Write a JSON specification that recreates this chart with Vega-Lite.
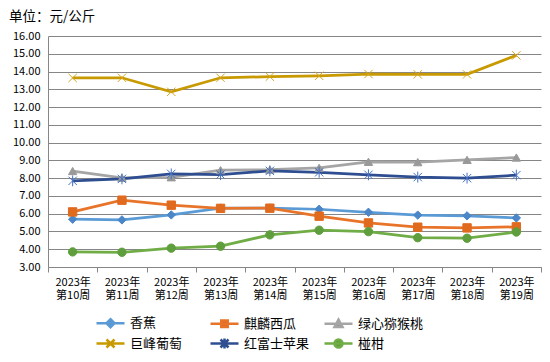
{
  "$schema": "https://vega.github.io/schema/vega-lite/v6.json",
  "width": 493,
  "height": 231,
  "autosize": {"type": "none"},
  "padding": {"left": 48, "top": 36, "right": 9, "bottom": 95},
  "background": "white",
  "title": {"text": "单位：元/公斤", "anchor": "start", "frame": "group", "dx": -39, "offset": 7, "fontSize": 13.5, "fontWeight": "normal", "color": "#000000", "font": "Noto Sans CJK SC"},
  "config": {"font": "Noto Sans CJK SC", "view": {"stroke": null}},
  "data": {"values": [
    {"week": "2023年第10周", "series": "香蕉", "price": 5.69},
    {"week": "2023年第11周", "series": "香蕉", "price": 5.65},
    {"week": "2023年第12周", "series": "香蕉", "price": 5.93},
    {"week": "2023年第13周", "series": "香蕉", "price": 6.31},
    {"week": "2023年第14周", "series": "香蕉", "price": 6.32},
    {"week": "2023年第15周", "series": "香蕉", "price": 6.25},
    {"week": "2023年第16周", "series": "香蕉", "price": 6.08},
    {"week": "2023年第17周", "series": "香蕉", "price": 5.92},
    {"week": "2023年第18周", "series": "香蕉", "price": 5.88},
    {"week": "2023年第19周", "series": "香蕉", "price": 5.76},
    {"week": "2023年第10周", "series": "麒麟西瓜", "price": 6.10},
    {"week": "2023年第11周", "series": "麒麟西瓜", "price": 6.76},
    {"week": "2023年第12周", "series": "麒麟西瓜", "price": 6.48},
    {"week": "2023年第13周", "series": "麒麟西瓜", "price": 6.30},
    {"week": "2023年第14周", "series": "麒麟西瓜", "price": 6.31},
    {"week": "2023年第15周", "series": "麒麟西瓜", "price": 5.86},
    {"week": "2023年第16周", "series": "麒麟西瓜", "price": 5.48},
    {"week": "2023年第17周", "series": "麒麟西瓜", "price": 5.24},
    {"week": "2023年第18周", "series": "麒麟西瓜", "price": 5.20},
    {"week": "2023年第19周", "series": "麒麟西瓜", "price": 5.26},
    {"week": "2023年第10周", "series": "绿心猕猴桃", "price": 8.40},
    {"week": "2023年第11周", "series": "绿心猕猴桃", "price": 8.02},
    {"week": "2023年第12周", "series": "绿心猕猴桃", "price": 8.05},
    {"week": "2023年第13周", "series": "绿心猕猴桃", "price": 8.45},
    {"week": "2023年第14周", "series": "绿心猕猴桃", "price": 8.48},
    {"week": "2023年第15周", "series": "绿心猕猴桃", "price": 8.58},
    {"week": "2023年第16周", "series": "绿心猕猴桃", "price": 8.92},
    {"week": "2023年第17周", "series": "绿心猕猴桃", "price": 8.90},
    {"week": "2023年第18周", "series": "绿心猕猴桃", "price": 9.03},
    {"week": "2023年第19周", "series": "绿心猕猴桃", "price": 9.16},
    {"week": "2023年第10周", "series": "巨峰葡萄", "price": 13.64},
    {"week": "2023年第11周", "series": "巨峰葡萄", "price": 13.65},
    {"week": "2023年第12周", "series": "巨峰葡萄", "price": 12.86},
    {"week": "2023年第13周", "series": "巨峰葡萄", "price": 13.65},
    {"week": "2023年第14周", "series": "巨峰葡萄", "price": 13.71},
    {"week": "2023年第15周", "series": "巨峰葡萄", "price": 13.76},
    {"week": "2023年第16周", "series": "巨峰葡萄", "price": 13.86},
    {"week": "2023年第17周", "series": "巨峰葡萄", "price": 13.84},
    {"week": "2023年第18周", "series": "巨峰葡萄", "price": 13.84},
    {"week": "2023年第19周", "series": "巨峰葡萄", "price": 14.91},
    {"week": "2023年第10周", "series": "红富士苹果", "price": 7.85},
    {"week": "2023年第11周", "series": "红富士苹果", "price": 7.96},
    {"week": "2023年第12周", "series": "红富士苹果", "price": 8.24},
    {"week": "2023年第13周", "series": "红富士苹果", "price": 8.20},
    {"week": "2023年第14周", "series": "红富士苹果", "price": 8.41},
    {"week": "2023年第15周", "series": "红富士苹果", "price": 8.33},
    {"week": "2023年第16周", "series": "红富士苹果", "price": 8.19},
    {"week": "2023年第17周", "series": "红富士苹果", "price": 8.06},
    {"week": "2023年第18周", "series": "红富士苹果", "price": 8.00},
    {"week": "2023年第19周", "series": "红富士苹果", "price": 8.17},
    {"week": "2023年第10周", "series": "椪柑", "price": 3.85},
    {"week": "2023年第11周", "series": "椪柑", "price": 3.83},
    {"week": "2023年第12周", "series": "椪柑", "price": 4.06},
    {"week": "2023年第13周", "series": "椪柑", "price": 4.17},
    {"week": "2023年第14周", "series": "椪柑", "price": 4.81},
    {"week": "2023年第15周", "series": "椪柑", "price": 5.07},
    {"week": "2023年第16周", "series": "椪柑", "price": 4.99},
    {"week": "2023年第17周", "series": "椪柑", "price": 4.65},
    {"week": "2023年第18周", "series": "椪柑", "price": 4.62},
    {"week": "2023年第19周", "series": "椪柑", "price": 4.97}
  ]},
  "encoding": {
    "x": {"field": "week", "type": "nominal", "sort": null,
      "scale": {"paddingInner": 0, "paddingOuter": 0},
      "axis": {"title": null, "labelAngle": 0, "tickBand": "extent", "grid": false,
        "labelExpr": "[slice(datum.label, 0, 5), slice(datum.label, 5)]",
        "domainColor": "#868686", "tickColor": "#868686", "tickSize": 5, "labelPadding": 4,
        "labelFontSize": 11, "labelLineHeight": 13, "labelColor": "#000000", "labelFont": "Noto Sans CJK SC"}},
    "y": {"field": "price", "type": "quantitative",
      "scale": {"domain": [3, 16], "nice": false, "zero": false},
      "axis": {"title": null, "values": [3, 4, 5, 6, 7, 8, 9, 10, 11, 12, 13, 14, 15, 16], "format": ".2f",
        "ticks": false, "labelPadding": 8, "gridColor": "#868686", "gridOpacity": 1, "domainColor": "#868686",
        "labelFontSize": 11, "labelColor": "#000000", "labelFont": "Noto Sans CJK SC"}}
  },
  "layer": [
    {
      "mark": {"type": "line", "strokeWidth": 2.75},
      "encoding": {
        "stroke": {"field": "series", "type": "nominal",
          "scale": {"domain": ["香蕉", "麒麟西瓜", "绿心猕猴桃", "巨峰葡萄", "红富士苹果", "椪柑"],
            "range": ["#5B9BD5", "#E8742A", "#A5A5A5", "#C89A00", "#2E4E91", "#70AD47"]},
          "legend": null}
      }
    },
    {
      "mark": {"type": "point", "filled": true, "size": 70, "strokeWidth": 1, "opacity": 1},
      "encoding": {
        "fill": {"field": "series", "type": "nominal",
          "scale": {"domain": ["香蕉", "麒麟西瓜", "绿心猕猴桃", "巨峰葡萄", "红富士苹果", "椪柑"],
            "range": ["#4A86C8", "#E06A1E", "#999999", "#D6A520", "#4472C4", "#5F9E3C"]},
          "legend": null},
        "stroke": {"field": "series", "type": "nominal",
          "scale": {"domain": ["香蕉", "麒麟西瓜", "绿心猕猴桃", "巨峰葡萄", "红富士苹果", "椪柑"],
            "range": ["#4A86C8", "#E06A1E", "#999999", "#D6A520", "#4472C4", "#5F9E3C"]},
          "legend": null},
        "shape": {"field": "series", "type": "nominal",
          "scale": {"domain": ["香蕉", "麒麟西瓜", "绿心猕猴桃", "巨峰葡萄", "红富士苹果", "椪柑"],
            "range": ["diamond", "square", "triangle-up", "M-1,-1L1,1M-1,1L1,-1", "M-1,-1L1,1M-1,1L1,-1M0,-1.3L0,1.3", "circle"]},
          "legend": null}
      }
    },
    {
      "mark": {"type": "point", "filled": false, "opacity": 0, "size": 100},
      "encoding": {
        "color": {"field": "series", "type": "nominal",
          "scale": {"domain": ["香蕉", "麒麟西瓜", "绿心猕猴桃", "巨峰葡萄", "红富士苹果", "椪柑"],
            "range": ["#5B9BD5", "#E8742A", "#A5A5A5", "#C89A00", "#2E4E91", "#70AD47"]},
          "legend": {"orient": "none", "direction": "horizontal", "legendX": 56, "legendY": 280, "columns": 3, "title": null,
            "symbolSize": 100, "symbolStrokeWidth": 2.5, "symbolOpacity": 1,
            "labelFontSize": 13, "labelOffset": 13, "labelColor": "#000000", "labelFont": "Noto Sans CJK SC",
            "gridAlign": "all", "columnPadding": 9, "rowPadding": 0}},
        "fill": {"field": "series", "type": "nominal",
          "scale": {"domain": ["香蕉", "麒麟西瓜", "绿心猕猴桃", "巨峰葡萄", "红富士苹果", "椪柑"],
            "range": ["#4A86C8", "#E06A1E", "#999999", "#D6A520", "#4472C4", "#5F9E3C"]}},
        "shape": {"field": "series", "type": "nominal",
          "scale": {"domain": ["香蕉", "麒麟西瓜", "绿心猕猴桃", "巨峰葡萄", "红富士苹果", "椪柑"],
            "range": [
              "M-2.8,0L2.8,0M0,-0.8L0.8,0L0,0.8L-0.8,0Z",
              "M-2.8,0L2.8,0M-0.65,-0.65L0.65,-0.65L0.65,0.65L-0.65,0.65Z",
              "M-2.8,0L2.8,0M0,-0.8L0.8,0.65L-0.8,0.65Z",
              "M-2.8,0L2.8,0M-0.8,-0.8L0.8,0.8M-0.8,0.8L0.8,-0.8",
              "M-2.8,0L2.8,0M-0.8,-0.8L0.8,0.8M-0.8,0.8L0.8,-0.8M0,-1L0,1",
              "M-2.8,0L2.8,0M0.8,0A0.8,0.8,0,1,1,-0.8,0A0.8,0.8,0,1,1,0.8,0Z"
            ]}}
      }
    }
  ],
  "resolve": {"scale": {"color": "independent", "shape": "independent", "fill": "independent", "stroke": "independent"}}
}
